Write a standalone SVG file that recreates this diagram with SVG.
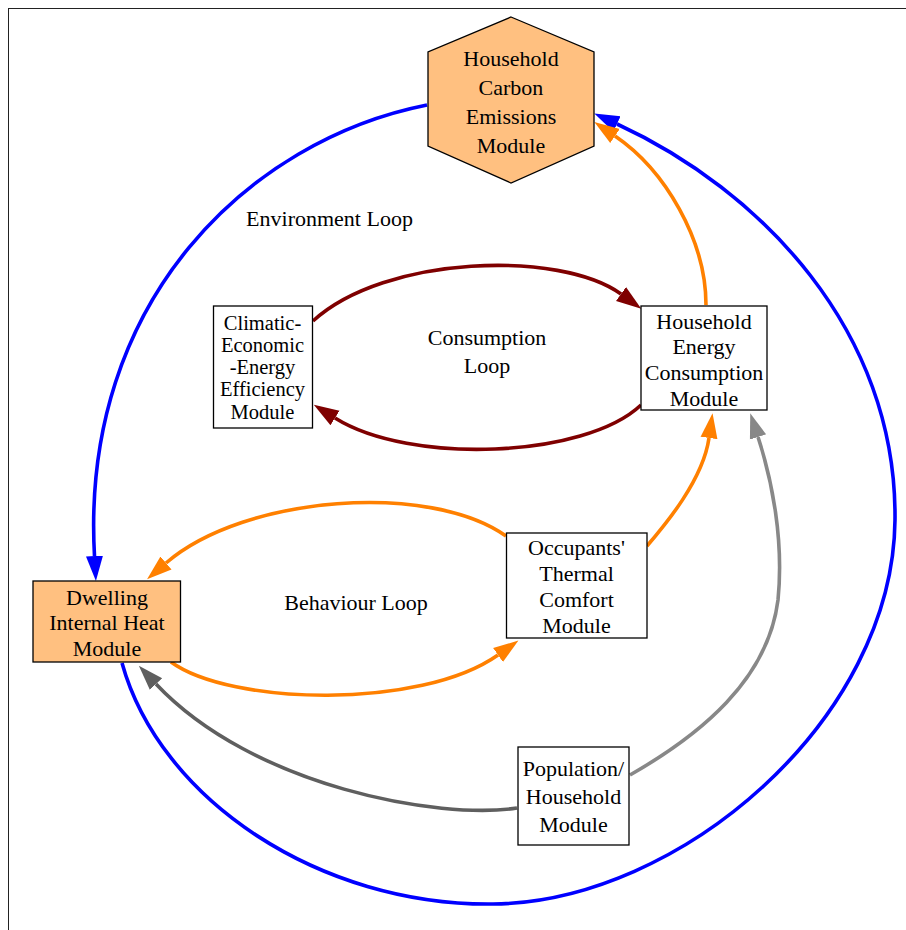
<svg xmlns="http://www.w3.org/2000/svg" width="906" height="930" viewBox="0 0 906 930">
<style>
.t{font-family:"Liberation Serif","Times New Roman",serif;font-size:22px;fill:#000;text-anchor:middle}
.s{font-size:20.5px}
.box{stroke:#000;stroke-width:1.3}
.e{fill:none;stroke-width:3.6}
</style>
<defs>
<marker id="aBlue" markerUnits="userSpaceOnUse" markerWidth="30" markerHeight="20" refX="0" refY="10" viewBox="0 0 30 20" orient="auto"><path d="M0,1.5 L25,10 L0,18.5 z" fill="#0000ff"/></marker>
<marker id="aOrange" markerUnits="userSpaceOnUse" markerWidth="30" markerHeight="20" refX="0" refY="10" viewBox="0 0 30 20" orient="auto"><path d="M0,1.5 L25,10 L0,18.5 z" fill="#ff8000"/></marker>
<marker id="aRed" markerUnits="userSpaceOnUse" markerWidth="30" markerHeight="20" refX="0" refY="10" viewBox="0 0 30 20" orient="auto"><path d="M0,1.5 L25,10 L0,18.5 z" fill="#7f0000"/></marker>
<marker id="aGray" markerUnits="userSpaceOnUse" markerWidth="30" markerHeight="20" refX="0" refY="10" viewBox="0 0 30 20" orient="auto"><path d="M0,1.5 L25,10 L0,18.5 z" fill="#888888"/></marker>
<marker id="aDark" markerUnits="userSpaceOnUse" markerWidth="30" markerHeight="20" refX="0" refY="10" viewBox="0 0 30 20" orient="auto"><path d="M0,1.5 L25,10 L0,18.5 z" fill="#5f5f5f"/></marker>
</defs>
<rect x="0" y="0" width="906" height="930" fill="#fff"/>
<rect x="8.5" y="8.5" width="1000" height="1000" fill="none" stroke="#222" stroke-width="1"/>

<g id="connectors">
<path class="e" stroke="#0000ff" marker-end="url(#aBlue)" d="M427,105 C250,140 80,300 94.5,556"/>
<path class="e" stroke="#0000ff" marker-end="url(#aBlue)" d="M122,663 C160,800 320,906 493,904 C680,902 893,720 895,520 C897,330 760,190 617,124"/>
<path class="e" stroke="#ff8000" marker-end="url(#aOrange)" d="M706,305 C706,240 665,170 615,136"/>
<path class="e" stroke="#7f0000" marker-end="url(#aRed)" d="M313,321 C385,255 560,250 621,294"/>
<path class="e" stroke="#7f0000" marker-end="url(#aRed)" d="M641,405 C585,458 410,465 335,418"/>
<path class="e" stroke="#ff8000" marker-end="url(#aOrange)" d="M506,536 C430,482 245,495 166,563"/>
<path class="e" stroke="#ff8000" marker-end="url(#aOrange)" d="M171,662 C230,705 420,710 498,655"/>
<path class="e" stroke="#ff8000" marker-end="url(#aOrange)" d="M647,546 C665,525 703,480 709,438"/>
<path class="e" stroke="#888888" marker-end="url(#aGray)" d="M630,775 C700,735 768,680 778,600 C784,540 772,480 758,437"/>
<path class="e" stroke="#5f5f5f" marker-end="url(#aDark)" d="M517,808 C440,820 253,787 156,684"/>
</g>

<g id="hce">
<polygon class="box" fill="#ffc080" points="511,17 594,52 594,146 511,183 428,146 428,52"/>
<text class="t" x="511" y="66">Household</text>
<text class="t" x="511" y="95">Carbon</text>
<text class="t" x="511" y="124">Emissions</text>
<text class="t" x="511" y="153">Module</text>
</g>

<g id="cee">
<rect class="box" fill="#fff" x="213.5" y="306" width="99" height="122"/>
<text class="t s" x="262.5" y="330">Climatic-</text>
<text class="t s" x="262.5" y="352">Economic</text>
<text class="t s" x="262.5" y="374">-Energy</text>
<text class="t s" x="262.5" y="396">Efficiency</text>
<text class="t s" x="262.5" y="419">Module</text>
</g>

<g id="hec">
<rect class="box" fill="#fff" x="641" y="306" width="126" height="104"/>
<text class="t" x="704" y="329">Household</text>
<text class="t" x="704" y="354">Energy</text>
<text class="t" x="704" y="380">Consumption</text>
<text class="t" x="704" y="406">Module</text>
</g>

<g id="dih">
<rect class="box" fill="#ffc080" x="33" y="581" width="147.5" height="81"/>
<text class="t" x="107" y="605">Dwelling</text>
<text class="t" x="107" y="630">Internal Heat</text>
<text class="t" x="107" y="656">Module</text>
</g>

<g id="otc">
<rect class="box" fill="#fff" x="506.5" y="533" width="140.5" height="105"/>
<text class="t" x="576.5" y="555">Occupants'</text>
<text class="t" x="576.5" y="581">Thermal</text>
<text class="t" x="576.5" y="607">Comfort</text>
<text class="t" x="576.5" y="633">Module</text>
</g>

<g id="pop">
<rect class="box" fill="#fff" x="518" y="747" width="111" height="98"/>
<text class="t" x="573.5" y="776">Population/</text>
<text class="t" x="573.5" y="804">Household</text>
<text class="t" x="573.5" y="832">Module</text>
</g>

<g id="labels">
<text class="t" x="329.5" y="226">Environment Loop</text>
<text class="t" x="487" y="345">Consumption</text>
<text class="t" x="487" y="373">Loop</text>
<text class="t" x="356" y="610">Behaviour Loop</text>
</g>
</svg>
